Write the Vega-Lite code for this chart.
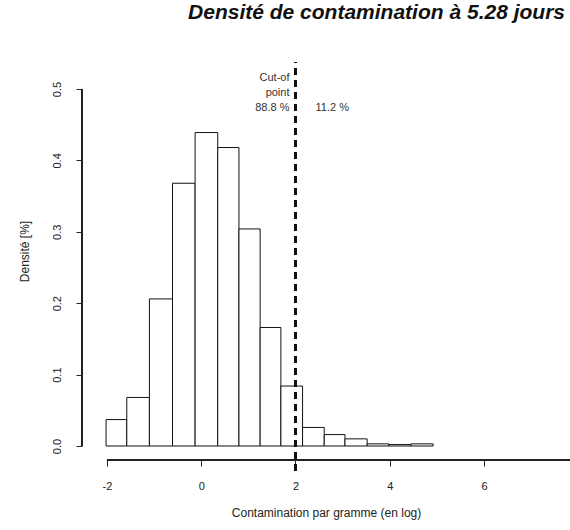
{
  "$schema": "https://vega.github.io/schema/vega-lite/v6.json",
  "width": 488,
  "height": 398,
  "autosize": "none",
  "padding": {"left": 82, "top": 62, "right": 0, "bottom": 70},
  "background": "white",
  "title": {
    "text": "Densité de contamination à 5.28 jours",
    "anchor": "end",
    "frame": "group",
    "font": "Liberation Sans",
    "fontSize": 21,
    "fontWeight": "bold",
    "fontStyle": "italic",
    "color": "#111",
    "offset": 38,
    "dx": -5
  },
  "config": {
    "view": {"stroke": null},
    "axis": {"labelFont": "Liberation Sans", "titleFont": "Liberation Sans", "labelColor": "#222", "titleColor": "#222", "tickColor": "#222", "grid": false, "domain": false}
  },
  "data": {
    "values": [
      {"x0": -2.02, "x1": -1.58, "d": 0.037},
      {"x0": -1.58, "x1": -1.10, "d": 0.068},
      {"x0": -1.10, "x1": -0.61, "d": 0.206},
      {"x0": -0.61, "x1": -0.13, "d": 0.368},
      {"x0": -0.13, "x1": 0.35, "d": 0.439},
      {"x0": 0.35, "x1": 0.80, "d": 0.418},
      {"x0": 0.80, "x1": 1.25, "d": 0.304},
      {"x0": 1.25, "x1": 1.69, "d": 0.166},
      {"x0": 1.69, "x1": 2.15, "d": 0.084},
      {"x0": 2.15, "x1": 2.61, "d": 0.026},
      {"x0": 2.61, "x1": 3.05, "d": 0.016},
      {"x0": 3.05, "x1": 3.52, "d": 0.010},
      {"x0": 3.52, "x1": 3.98, "d": 0.003},
      {"x0": 3.98, "x1": 4.45, "d": 0.002},
      {"x0": 4.45, "x1": 4.92, "d": 0.003}
    ]
  },
  "layer": [
    {
      "mark": {"type": "rect", "fill": "white", "stroke": "#111", "strokeWidth": 1},
      "encoding": {
        "x": {
          "field": "x0", "type": "quantitative",
          "scale": {"domain": [-2.5305, 7.825], "nice": false, "zero": false},
          "axis": {
            "values": [-2, 0, 2, 4, 6],
            "labelExpr": "'' + datum.value",
            "title": "Contamination par gramme (en log)",
            "labelFontSize": 11,
            "titleFontSize": 12,
            "titleFontWeight": "normal",
            "tickSize": 6,
            "labelPadding": 14,
            "titlePadding": 16
          }
        },
        "x2": {"field": "x1"},
        "y": {
          "field": "d", "type": "quantitative",
          "scale": {"domain": [-0.0196, 0.5378], "nice": false, "zero": false},
          "axis": {
            "values": [0, 0.1, 0.2, 0.3, 0.4, 0.5],
            "format": ".1f",
            "title": "Densité [%]",
            "labelFontSize": 11,
            "labelAngle": -90,
            "labelAlign": "center",
            "labelBaseline": "bottom",
            "labelPadding": 14,
            "tickSize": 6,
            "titleFontSize": 12,
            "titleFontWeight": "normal",
            "titleX": -58,
            "titleY": 189,
            "titleAngle": -90,
            "titleAlign": "center",
            "titleBaseline": "middle"
          }
        },
        "y2": {"datum": 0}
      }
    },
    {
      "mark": {"type": "rule", "stroke": "#222", "strokeWidth": 1},
      "encoding": {"x": {"datum": -2}, "x2": {"datum": 7.825}, "y": {"datum": -0.0196}}
    },
    {
      "mark": {"type": "rule", "stroke": "#222", "strokeWidth": 1},
      "encoding": {"x": {"datum": -2.5305}, "y": {"datum": 0}, "y2": {"datum": 0.5}}
    },
    {
      "mark": {"type": "rule", "stroke": "#111", "strokeWidth": 2, "strokeDash": [7, 5]},
      "encoding": {"x": {"datum": 2}, "y": {"datum": -0.035}, "y2": {"datum": 0.5378}}
    },
    {
      "data": {"values": [
        {"t": "Cut-of", "x": 2, "y": 0.515},
        {"t": "point", "x": 2, "y": 0.494},
        {"t": "88.8 %", "x": 2, "y": 0.473}
      ]},
      "mark": {"type": "text", "align": "right", "baseline": "middle", "dx": -6, "font": "Liberation Sans", "fontSize": 11, "color": "#333"},
      "encoding": {"x": {"field": "x", "type": "quantitative"}, "y": {"field": "y", "type": "quantitative"}, "text": {"field": "t"}}
    },
    {
      "data": {"values": [
        {"t": "11.2 %", "x": 2, "y": 0.473}
      ]},
      "mark": {"type": "text", "align": "left", "baseline": "middle", "dx": 20, "font": "Liberation Sans", "fontSize": 11, "color": "#333"},
      "encoding": {"x": {"field": "x", "type": "quantitative"}, "y": {"field": "y", "type": "quantitative"}, "text": {"field": "t"}}
    }
  ]
}
